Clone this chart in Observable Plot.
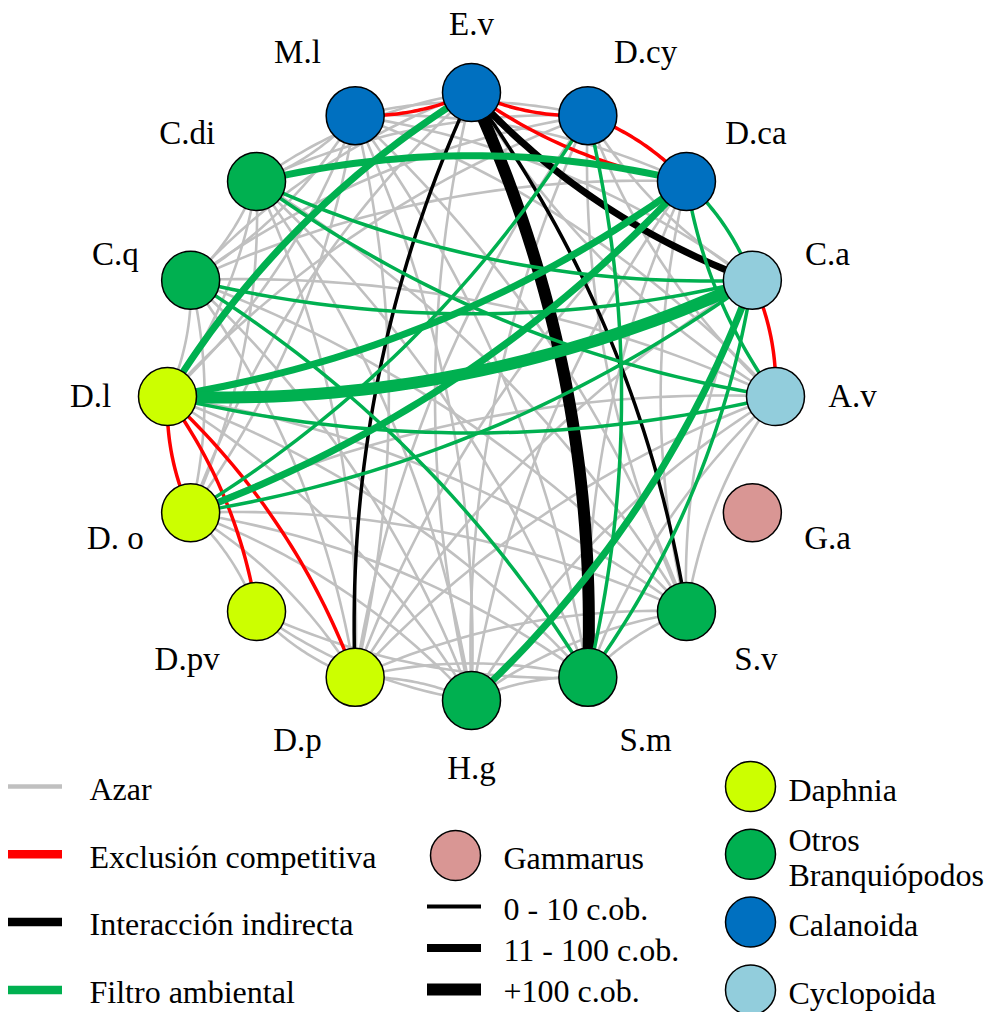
<!DOCTYPE html>
<html><head><meta charset="utf-8">
<script src="https://cdn.jsdelivr.net/npm/d3@7"></script>
<script src="https://cdn.jsdelivr.net/npm/@observablehq/plot@0.6"></script>
<style>html,body{margin:0;padding:0;background:#fff;} svg{display:block;}</style>
</head><body><div id="chart"></div>
<script>
// ---- Data ----
const nodeNames  = ["E.v","D.cy","D.ca","C.a","A.v","G.a","S.v","S.m","H.g","D.p","D.pv","D.o","D.l","C.q","C.di","M.l"];
const nodeLabels = ["E.v","D.cy","D.ca","C.a","A.v","G.a","S.v","S.m","H.g","D.p","D.pv","D. o","D.l","C.q","C.di","M.l"];
const nodeGroups = ["Calanoida","Calanoida","Calanoida","Cyclopoida","Cyclopoida","Gammarus","Otros Branquiópodos","Otros Branquiópodos","Otros Branquiópodos","Daphnia","Daphnia","Daphnia","Daphnia","Otros Branquiópodos","Otros Branquiópodos","Calanoida"];
const groupNames  = ["Daphnia","Otros Branquiópodos","Calanoida","Cyclopoida","Gammarus"];
const groupLegend = ["Daphnia","Otros\nBranquiópodos","Calanoida","Cyclopoida"];
const groupColors = ["#CCFF00","#00B050","#0070C0","#92CDDC","#D99694"];
const edgeTypes  = ["Azar","Exclusión competitiva","Interacción indirecta","Filtro ambiental"];
const edgeColors = ["#C0C0C0","#FF0000","#000000","#00B050"];
const widthClasses = ["0 - 10 c.ob.","11 - 100 c.ob.","+100 c.ob."];

// edges: [from, to, width class (1: 0-10, 2: 11-100, 3: +100)]
const redEdges = [["M.l","E.v",1],["E.v","D.cy",1],["E.v","D.ca",1],["D.ca","D.cy",1],["A.v","C.a",1],["D.l","D.o",1],["D.pv","D.l",1],["D.p","D.l",1]];
const blackEdges = [["E.v","D.p",1],["S.m","E.v",3],["S.v","E.v",1],["E.v","C.a",2]];
const greenEdges = [["E.v","D.l",2],["D.ca","C.di",2],["C.di","C.a",1],["C.di","A.v",1],["C.q","C.a",1],["S.m","C.q",1],["D.l","C.a",3],["D.l","D.ca",2],["D.l","A.v",1],["D.o","D.ca",2],["D.o","D.cy",1],["D.o","C.a",1],["H.g","C.a",2],["S.m","D.cy",1],["S.m","C.a",1],["C.a","D.ca",1],["D.ca","A.v",1]];
const grayEdges = [
 ["E.v","A.v"],["E.v","H.g"],["E.v","D.o"],["E.v","C.q"],["E.v","C.di"],
 ["D.cy","C.a"],["D.cy","A.v"],["D.cy","S.v"],["D.cy","H.g"],["D.cy","D.p"],["D.cy","D.l"],["D.cy","C.q"],["D.cy","C.di"],["D.cy","M.l"],
 ["D.ca","S.v"],["D.ca","S.m"],["D.ca","H.g"],["D.ca","D.p"],["D.ca","C.q"],["D.ca","M.l"],
 ["C.a","S.v"],["C.a","D.p"],["C.a","M.l"],
 ["A.v","S.v"],["A.v","S.m"],["A.v","H.g"],["A.v","D.p"],["A.v","D.o"],["A.v","C.q"],["A.v","M.l"],
 ["S.v","S.m"],["S.v","H.g"],["S.v","D.p"],["S.v","D.o"],["S.v","D.l"],["S.v","C.q"],["S.v","C.di"],["S.v","M.l"],
 ["S.m","H.g"],["S.m","D.p"],["S.m","D.o"],["S.m","D.l"],["S.m","C.di"],["S.m","M.l"],
 ["H.g","D.p"],["H.g","D.o"],["H.g","D.l"],["H.g","C.q"],["H.g","C.di"],["H.g","M.l"],
 ["D.p","D.o"],["D.p","C.q"],["D.p","C.di"],["D.p","M.l"],
 ["D.o","C.q"],["D.o","C.di"],["D.o","M.l"],
 ["D.l","C.q"],["D.l","C.di"],["D.l","M.l"],
 ["C.q","C.di"],["C.q","M.l"],["C.di","M.l"],
 ["D.pv","D.p"],["D.pv","H.g"],["D.pv","S.m"],["D.pv","D.o"]
];

// ---- Layout (circle) ----
const W = 994, H = 1012;
const cx = 471, cy = 396, R = 304;
const pos = new Map(nodeNames.map((n, i) => {
  const a = (90 - i * 360 / nodeNames.length) * Math.PI / 180;
  return [n, {x: cx + R * Math.cos(a), y: cy - R * Math.sin(a), c: Math.cos(a), s: Math.sin(a)}];
}));
const nodes = nodeNames.map((n, i) => {
  const p = pos.get(n);
  return {name: n, label: nodeLabels[i], group: nodeGroups[i], x: p.x, y: p.y,
    lx: p.x + 77 * Math.sign(p.c) * Math.pow(Math.abs(p.c), 0.3),
    ly: p.y - 68 * p.s};
});

function curvePoints(edges, type) {
  const pts = [];
  edges.forEach((e, k) => {
    const p0 = pos.get(e[0]), p2 = pos.get(e[1]);
    const dx = p2.x - p0.x, dy = p2.y - p0.y;
    const bend = 0.12;
    const mx = (p0.x + p2.x) / 2 - dy * bend, my = (p0.y + p2.y) / 2 + dx * bend;
    for (let j = 0; j <= 40; j++) {
      const t = j / 40, u = 1 - t;
      pts.push({id: type + k, type, w: e[2] || 0,
        x: u * u * p0.x + 2 * u * t * mx + t * t * p2.x,
        y: u * u * p0.y + 2 * u * t * my + t * t * p2.y});
    }
  });
  return pts;
}
const widthPx = {1: 3.5, 2: 7, 3: 12};
function edgeMarks(edges, type) {
  const pts = curvePoints(edges, type);
  return [1, 2, 3].map(w => Plot.line(pts.filter(d => d.w === w), {x: "x", y: "y", z: "id", stroke: "type", strokeWidth: widthPx[w]}));
}

const font = "Liberation Serif";
const legY = i => 786 + i * 67.8;

const chart = Plot.plot({
  width: W, height: H, margin: 0,
  x: {domain: [0, W], range: [0, W], axis: null},
  y: {domain: [0, H], range: [0, H], axis: null},
  color: {type: "ordinal", domain: [...groupNames, ...edgeTypes], range: [...groupColors, ...edgeColors]},
  style: {fontFamily: font, background: "#fff"},
  marks: [
    Plot.line(curvePoints(grayEdges, "Azar"), {x: "x", y: "y", z: "id", stroke: "type", strokeWidth: 2.6}),
    ...edgeMarks(redEdges, "Exclusión competitiva"),
    ...edgeMarks(blackEdges, "Interacción indirecta"),
    ...edgeMarks(greenEdges, "Filtro ambiental"),
    Plot.dot(nodes, {x: "x", y: "y", r: 29, fill: "group", stroke: "black", strokeWidth: 1.5}),
    Plot.text(nodes, {x: "lx", y: "ly", text: "label", fontSize: 33, fontFamily: font, fill: "black"}),
    // legend: edge types
    Plot.ruleY(edgeTypes, {y: (d, i) => legY(i), x1: 8, x2: 62, stroke: d => d, strokeWidth: (d, i) => i === 0 ? 4.5 : 8.5}),
    Plot.text(edgeTypes, {x: 89, y: (d, i) => legY(i) + 3, text: d => d, textAnchor: "start", fontSize: 32, fontFamily: font, fill: "black"}),
    // legend: Gammarus + widths
    Plot.dot(["Gammarus"], {x: 455, y: 855, r: 25, fill: d => d, stroke: "black", strokeWidth: 1.5}),
    Plot.text(["Gammarus"], {x: 503, y: 858, text: d => d, textAnchor: "start", fontSize: 32, fontFamily: font, fill: "black"}),
    Plot.ruleY(widthClasses, {y: (d, i) => 906 + i * 41.5, x1: 427, x2: 481, stroke: "black", strokeWidth: (d, i) => 4 + i * 4}),
    Plot.text(widthClasses, {x: 503, y: (d, i) => 909 + i * 41, text: d => d, textAnchor: "start", fontSize: 32, fontFamily: font, fill: "black"}),
    // legend: groups
    Plot.dot(groupNames.slice(0, 4), {x: 750, y: (d, i) => legY(i), r: 25, fill: d => d, stroke: "black", strokeWidth: 1.5}),
    Plot.text(groupLegend, {x: 788, y: (d, i) => legY(i) + 3, text: d => d, textAnchor: "start", lineHeight: 1.1, fontSize: 32, fontFamily: font, fill: "black"})
  ]
});
document.getElementById("chart").appendChild(chart);
</script>
</body></html>
